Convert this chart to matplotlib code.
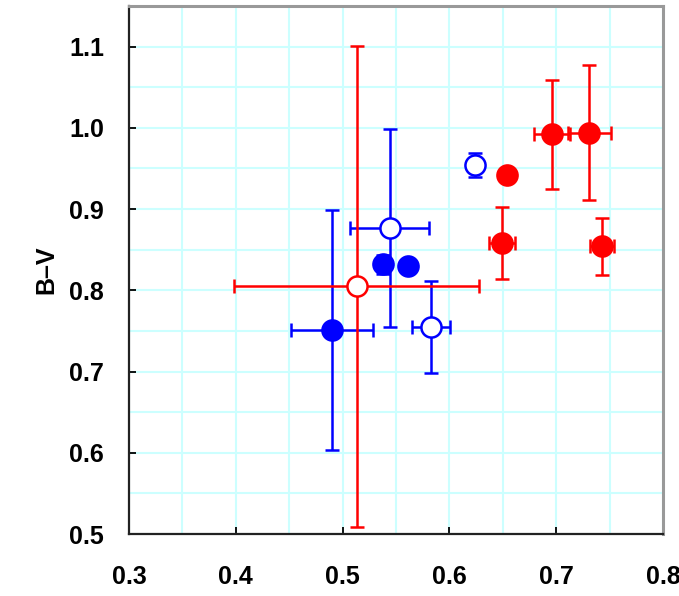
import numpy as np
import matplotlib.pyplot as plt

plt.rcParams['font.family'] = ['Liberation Sans', 'DejaVu Sans']

# blue, filled symbols
bf_x = [0.490, 0.538, 0.561]
bf_y = [0.751, 0.832, 0.830]
bf_xerr = [0.038, 0.0, 0.0]
bf_yerr = [0.148, 0.012, 0.0]

# blue, open symbols
bo_x = [0.544, 0.583, 0.624]
bo_y = [0.877, 0.755, 0.954]
bo_xerr = [0.037, 0.018, 0.0]
bo_yerr = [0.122, 0.057, 0.015]

# red, filled symbols
rf_x = [0.654, 0.696, 0.731, 0.649, 0.743]
rf_y = [0.942, 0.992, 0.994, 0.858, 0.854]
rf_xerr = [0.0, 0.017, 0.020, 0.012, 0.011]
rf_yerr = [0.0, 0.067, 0.083, 0.044, 0.035]

# red, open symbols
ro_x = [0.513]
ro_y = [0.805]
ro_xerr = [0.115]
ro_yerr = [0.296]

fig = plt.figure(figsize=(6.79, 5.96), dpi=100)
ax = fig.add_axes([0.19, 0.104, 0.7865, 0.886])

def draw(x, y, xerr, yerr, color, filled):
    ax.errorbar(x, y, xerr=xerr, yerr=yerr, fmt='none', ecolor=color,
                elinewidth=1.8, capsize=5, capthick=1.8, zorder=3)
    ax.plot(x, y, 'o', ms=14.5, mec=color, mew=1.8,
            mfc=color if filled else 'white', zorder=4)

draw(bf_x, bf_y, bf_xerr, bf_yerr, '#0000ff', True)
draw(bo_x, bo_y, bo_xerr, bo_yerr, '#0000ff', False)
draw(rf_x, rf_y, rf_xerr, rf_yerr, '#ff0000', True)
draw(ro_x, ro_y, ro_xerr, ro_yerr, '#ff0000', False)

ax.set_xlim(0.3, 0.8)
ax.set_ylim(0.5, 1.15)
ax.set_xticks(np.arange(0.3, 0.81, 0.1))
ax.set_yticks(np.arange(0.5, 1.11, 0.1))
ax.set_xticks(np.arange(0.3, 0.81, 0.05), minor=True)
ax.set_yticks(np.arange(0.5, 1.151, 0.05), minor=True)
ax.set_xticklabels(['0.3', '0.4', '0.5', '0.6', '0.7', '0.8'])
ax.set_yticklabels(['0.5', '0.6', '0.7', '0.8', '0.9', '1.0', '1.1'])

ax.grid(which='both', color='#ccffff', linewidth=1.5, zorder=0)
ax.set_axisbelow(True)

ax.tick_params(which='major', direction='in', length=5, width=1.3,
               labelsize=18, colors='black')
ax.tick_params(axis='x', pad=22)
ax.tick_params(axis='y', pad=18)
ax.tick_params(which='minor', length=0)
for lab in ax.get_xticklabels() + ax.get_yticklabels():
    lab.set_fontweight('bold')

for s in ['left', 'bottom']:
    ax.spines[s].set_color('#222222')
    ax.spines[s].set_linewidth(1.6)
for s in ['top', 'right']:
    ax.spines[s].set_color('#999999')
    ax.spines[s].set_linewidth(2.2)

ax.set_ylabel('B\u2013V', fontsize=18, fontweight='bold', labelpad=8)

fig.savefig('out.png', dpi=100)
